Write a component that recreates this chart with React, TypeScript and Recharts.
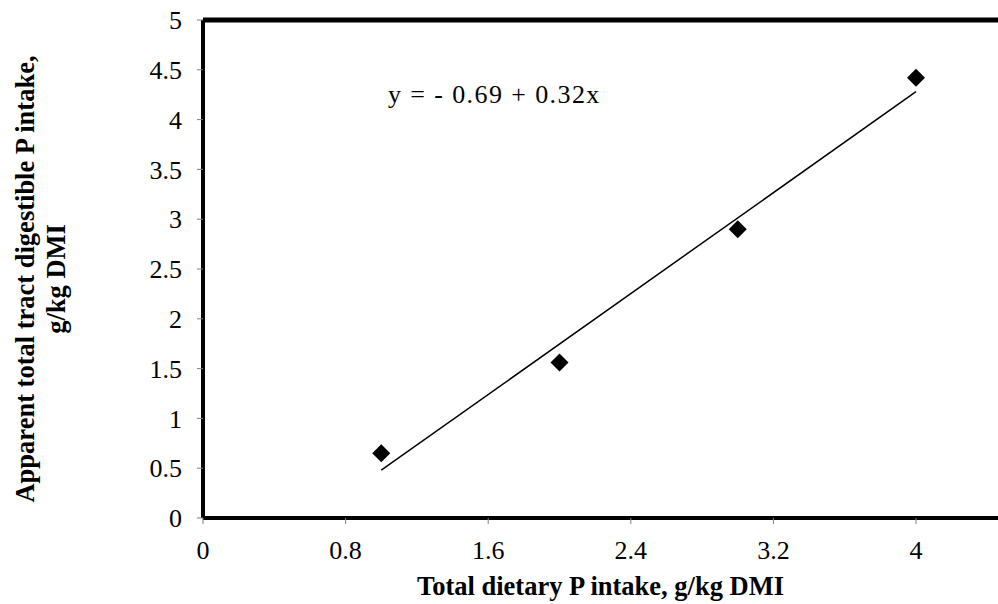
import { ComposedChart, Line, ReferenceLine, Scatter, XAxis, YAxis } from 'recharts';

const intakeX = [1, 2, 3, 4];
const digestibleY = [0.65, 1.56, 2.9, 4.42];

// 추세선 양 끝점
const trendX = [1, 4];
const trendY = [0.48, 4.28];

const xTicks = [0, 0.8, 1.6, 2.4, 3.2, 4];
const yTicks = [0, 0.5, 1, 1.5, 2, 2.5, 3, 3.5, 4, 4.5, 5];

const equationText = 'y = - 0.69 + 0.32x';
const xLabel = 'Total dietary P intake, g/kg DMI';
const yLabelLines = ['Apparent total tract digestible P intake,', 'g/kg DMI'];

const points = intakeX.map((x, i) => ({ x, y: digestibleY[i] }));
const trend = trendX.map((x, i) => ({ x, y: trendY[i] }));

// 일반 글꼴과 굵은 글꼴은 이름을 따로 씀
const REGULAR_FONT = 'Times New Roman';
const BOLD_FONT = 'Liberation Serif';

// 마름모 마커
function Diamond(props: any) {
  const { cx, cy } = props;
  const r = 9;
  return (
    <polygon
      points={`${cx},${cy - r} ${cx + r},${cy} ${cx},${cy + r} ${cx - r},${cy}`}
      fill="#000"
    />
  );
}

function YLabel() {
  return (
    <g>
      {yLabelLines.map((line, i) => (
        <text
          key={i}
          transform={`translate(${25 + i * 31}, 279) rotate(-90)`}
          textAnchor="middle"
          dominantBaseline="central"
          fontFamily={BOLD_FONT}
          fontWeight="bold"
          fontSize={26.5}
          fill="#000"
        >
          {line}
        </text>
      ))}
    </g>
  );
}

export default function App() {
  return (
    <div style={{ position: 'absolute', left: 0, top: 0, width: 998, height: 604, background: '#fff' }}>
      {/* 회귀식 텍스트 */}
      <div
        style={{
          position: 'absolute',
          left: 388,
          top: 80,
          fontFamily: `"${REGULAR_FONT}", Tinos, serif`,
          fontSize: 26,
          letterSpacing: 1.4,
          color: '#000',
          whiteSpace: 'nowrap',
          lineHeight: '30px',
          zIndex: 1,
        }}
      >
        {equationText}
      </div>
      <ComposedChart
        width={998}
        height={604}
        data={points}
        margin={{ top: 20, right: 0, bottom: 0, left: 0 }}
      >
        <XAxis
          type="number"
          dataKey="x"
          domain={[0, 4.46]}
          ticks={xTicks}
          interval={0}
          allowDataOverflow
          height={86}
          axisLine={{ stroke: '#000', strokeWidth: 4 }}
          tickLine={{ stroke: '#808080' }}
          tickSize={6}
          tickMargin={17}
          tick={{ fill: '#000', fontSize: 26, fontFamily: REGULAR_FONT, fontWeight: 'normal' }}
          label={{
            value: xLabel,
            position: 'insideBottom',
            offset: 9,
            fill: '#000',
            fontSize: 26.5,
            fontWeight: 'bold',
            fontFamily: BOLD_FONT,
          }}
        />
        <YAxis
          type="number"
          domain={[0, 5]}
          ticks={yTicks}
          interval={0}
          width={203}
          axisLine={{ stroke: '#000', strokeWidth: 4 }}
          tickLine={{ stroke: '#808080' }}
          tickSize={6}
          tickMargin={15}
          tick={{ fill: '#000', fontSize: 26, fontFamily: REGULAR_FONT, fontWeight: 'normal' }}
          label={{ content: () => <YLabel /> }}
        />
        <ReferenceLine y={5} stroke="#000" strokeWidth={5} />
        <ReferenceLine y={0} stroke="#b0b0b0" strokeWidth={1} />
        <ReferenceLine x={0} stroke="#b0b0b0" strokeWidth={1} />
        <Line
          data={trend}
          dataKey="y"
          type="linear"
          stroke="#000"
          strokeWidth={1.5}
          dot={false}
          activeDot={false}
          isAnimationActive={false}
        />
        <Scatter data={points} dataKey="y" shape={<Diamond />} isAnimationActive={false} />
      </ComposedChart>
    </div>
  );
}
